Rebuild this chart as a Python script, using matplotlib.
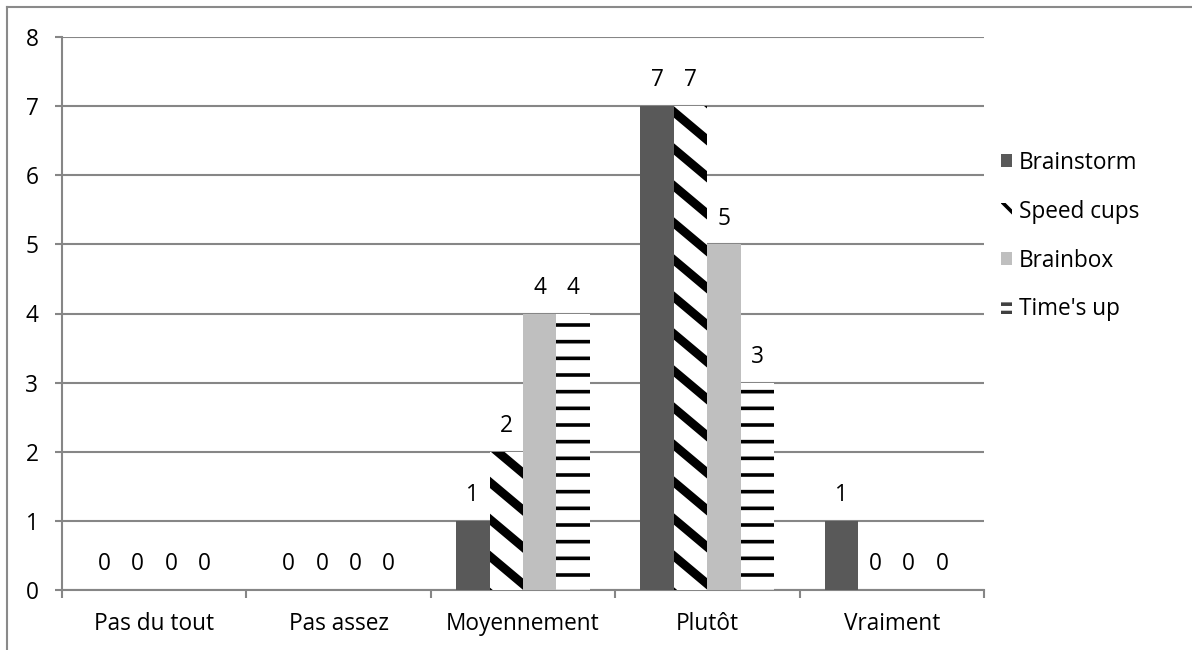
import numpy as np
import matplotlib
matplotlib.use("Agg")
import matplotlib.pyplot as plt
from matplotlib.patches import Patch
from matplotlib.lines import Line2D
from matplotlib.collections import LineCollection
from matplotlib.transforms import IdentityTransform

plt.rcParams['font.family'] = ['Open Sans', 'DejaVu Sans']
plt.rcParams['hatch.linewidth'] = 2.6

categories = ['Pas du tout', 'Pas assez', 'Moyennement', 'Plutôt', 'Vraiment']
series = ['Brainstorm', 'Speed cups', 'Brainbox', "Time's up"]
brainstorm = [0, 0, 1, 7, 1]
speed_cups = [0, 0, 2, 7, 0]
brainbox = [0, 0, 4, 5, 0]
times_up = [0, 0, 4, 3, 0]
values = [brainstorm, speed_cups, brainbox, times_up]

grid_col = '#868686'
fs = 16.3

fig = plt.figure(figsize=(11.92, 6.5), dpi=100)
ax = fig.add_axes([62 / 1192, 60 / 650, 922 / 1192, 553 / 650])
ax.set_xlim(-0.5, 4.5)
ax.set_ylim(0, 8)

x = np.arange(len(categories))
w = 0.1815
offsets = (np.arange(4) - 1.5) * w

bars = []
bars.append(ax.bar(x + offsets[0], brainstorm, w, color='#595959', linewidth=0, zorder=3))
bars.append(ax.bar(x + offsets[1], speed_cups, w, color='white', linewidth=0, zorder=3))
bars.append(ax.bar(x + offsets[2], brainbox, w, color='#BFBFBF', linewidth=0, zorder=3))
bars.append(ax.bar(x + offsets[3], times_up, w, facecolor='white', edgecolor='black',
                   hatch='-', linewidth=0, zorder=3))

# diagonal stripes for Speed cups, drawn in pixel space and clipped to each bar
fig.canvas.draw()
for rect in bars[1]:
    if rect.get_height() == 0:
        continue
    (x0, y0), (x1, y1) = ax.transData.transform([(rect.get_x(), 0),
                                                 (rect.get_x() + rect.get_width(), rect.get_height())])
    slope = 0.84
    period = 37
    segs = []
    c = y0 - 40
    while c < y1 + slope * (x1 - x0) + 40:
        segs.append([(x0 - 5, c + slope * 5), (x1 + 5, c - slope * (x1 - x0 + 5))])
        c += period
    lc = LineCollection(segs, colors='black', linewidths=6.3, transform=IdentityTransform(),
                        zorder=4)
    ax.add_collection(lc)
    lc.set_clip_path(rect)

# value labels
for k, vals in enumerate(values):
    for i, v in enumerate(vals):
        ax.annotate(str(v), (x[i] + offsets[k], v), xytext=(0, 18.5), textcoords='offset points',
                    ha='center', va='center', fontsize=fs, color='black', zorder=5)

ax.set_yticks(range(0, 9))
ax.yaxis.grid(True, color=grid_col, linewidth=1.5, zorder=0)
ax.set_axisbelow(True)
ax.tick_params(axis='y', length=5, width=1.5, color=grid_col, pad=12, labelsize=fs)

ax.set_xticks(x)
ax.set_xticklabels(categories)
ax.set_xticks(np.arange(-0.5, 5.0, 1.0), minor=True)
ax.tick_params(axis='x', which='major', length=0, pad=16, labelsize=fs)
ax.tick_params(axis='x', which='minor', length=6, width=1.5, color=grid_col)

for s in ['top', 'right']:
    ax.spines[s].set_visible(False)
for s in ['left', 'bottom']:
    ax.spines[s].set_color(grid_col)
    ax.spines[s].set_linewidth(1.5)

handles = [
    Patch(facecolor='#595959', linewidth=0),
    Patch(facecolor='white', edgecolor='black', hatch='\\', linewidth=0),
    Patch(facecolor='#BFBFBF', linewidth=0),
    Patch(facecolor='white', edgecolor='#404040', hatch='--', linewidth=0),
]
leg = ax.legend(handles, series, loc='center left', bbox_to_anchor=(1.018, 0.64),
                frameon=False, fontsize=fs, handlelength=0.5, handleheight=0.5,
                handletextpad=0.3, labelspacing=1.1, borderaxespad=0, borderpad=0)

# outer frame (top and left visible)
fig.add_artist(Line2D([7 / 1192, 1.0], [1 - 7 / 650, 1 - 7 / 650], color='#8a8a8a',
                      linewidth=1.5, transform=fig.transFigure))
fig.add_artist(Line2D([7 / 1192, 7 / 1192], [0, 1 - 7 / 650], color='#8a8a8a',
                      linewidth=1.5, transform=fig.transFigure))

fig.savefig('out.png', dpi=100)
